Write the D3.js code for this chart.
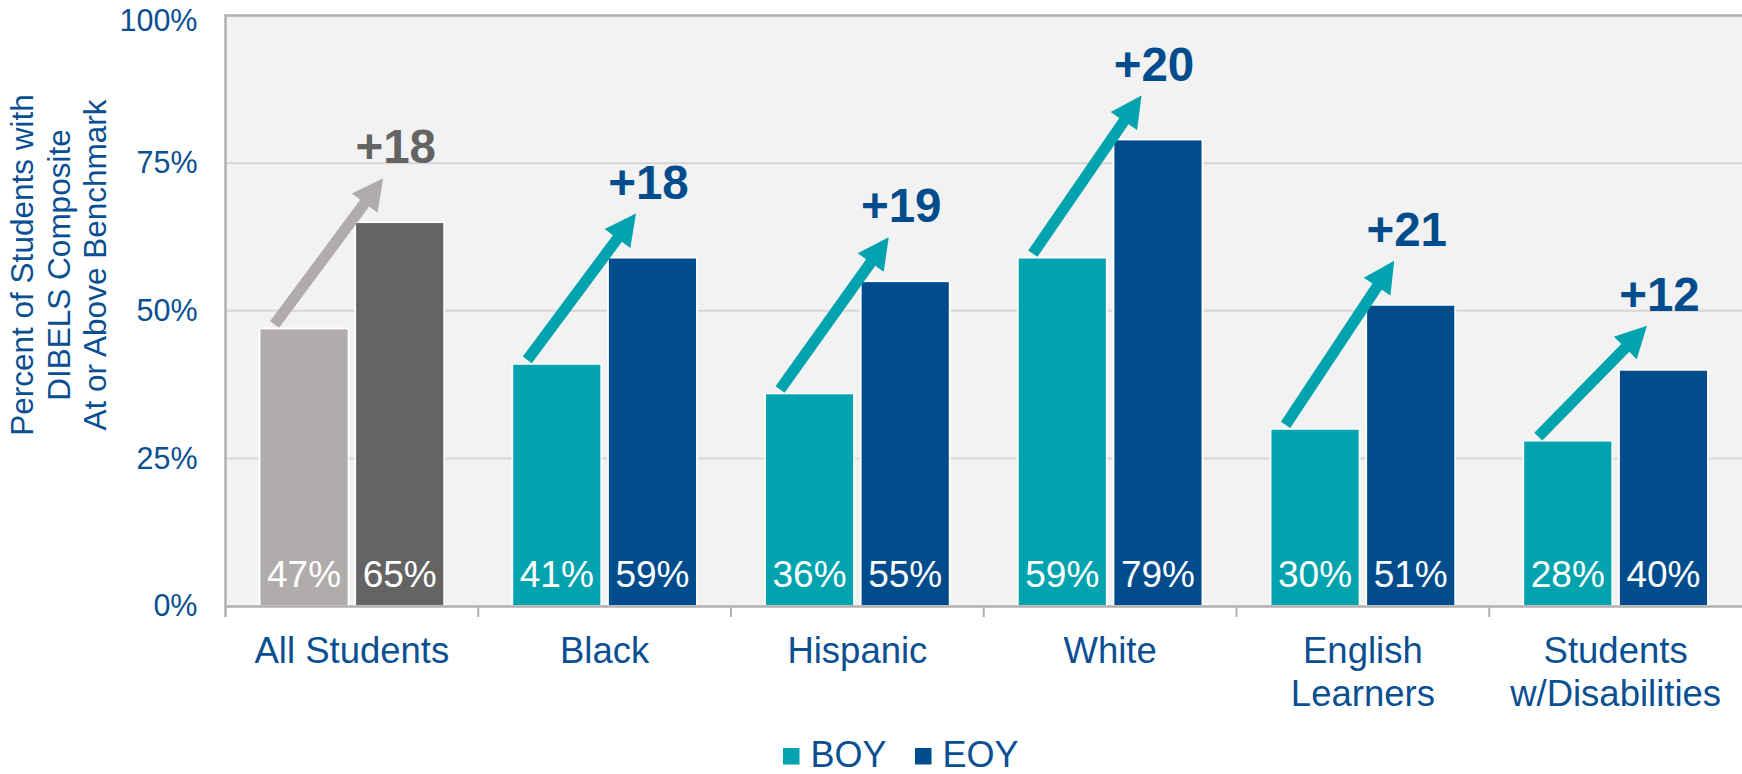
<!DOCTYPE html>
<html>
<head>
<meta charset="utf-8">
<script src="https://cdn.jsdelivr.net/npm/d3@7"></script>
<style>
  html, body { margin: 0; padding: 0; background: #ffffff; }
  svg { display: block; }
  text { font-family: "Liberation Sans", Arial, Helvetica, sans-serif; }
</style>
</head>
<body>
<svg id="chart" width="1742" height="774"></svg>
<script>
// ---- data ----
const categories = ["All Students", "Black", "Hispanic", "White", "English Learners", "Students w/Disabilities"];
const categoryLines = [["All Students"], ["Black"], ["Hispanic"], ["White"], ["English", "Learners"], ["Students", "w/Disabilities"]];
const seriesNames = ["BOY", "EOY"];
const boyValues = [47, 41, 36, 59, 30, 28];
const eoyValues = [65, 59, 55, 79, 51, 40];
const yTickValues = [0, 25, 50, 75, 100];
const yTitleLines = ["Percent of Students with", "DIBELS Composite", "At or Above Benchmark"];

// ---- styles ----
const W = 1742, H = 774;
const margin = { left: 225.5, right: 0, top: 15.5, bottom: 168 };
const colBOY = "#00a3ae", colEOY = "#004c8c";
const colAllBOY = "#afacab", colAllEOY = "#646464";
const textBlue = "#0a4f92";
const frameCol = "#b2afaf", gridCol = "#d6d6d6", plotBg = "#f2f2f2";

const svg = d3.select("#chart");
const x0 = d3.scaleBand().domain(categories).range([margin.left, W - margin.right]).padding(0);
const x1 = d3.scaleBand().domain(seriesNames).range([0, x0.bandwidth()]).paddingInner(0.07).paddingOuter(0.356);
const y = d3.scaleLinear().domain([0, 100]).range([H - margin.bottom, margin.top]);

const rows = categories.map((c, i) => ({ cat: c, i, lines: categoryLines[i], BOY: boyValues[i], EOY: eoyValues[i] }));

// plot background
svg.append("rect")
  .attr("x", margin.left).attr("y", y(100))
  .attr("width", W - margin.right - margin.left).attr("height", y(0) - y(100))
  .attr("fill", plotBg);

// gridlines
svg.append("g")
  .selectAll("line").data(yTickValues.filter(d => d > 0 && d < 100)).join("line")
  .attr("x1", margin.left).attr("x2", W - margin.right)
  .attr("y1", d => y(d)).attr("y2", d => y(d))
  .attr("stroke", gridCol).attr("stroke-width", 2);

// y axis labels
const yAxis = d3.axisLeft(y).tickValues(yTickValues).tickFormat(d => d + "%").tickSize(0).tickPadding(28);
const gy = svg.append("g").attr("transform", `translate(${margin.left},0)`).call(yAxis);
gy.select(".domain").remove();
gy.selectAll("text").attr("font-size", 30.5).attr("fill", textBlue)
  .attr("font-family", "'Liberation Sans', Arial, sans-serif")
  .attr("dy", d => d === 100 ? "0.5em" : "0.32em");

// frame: top and left and bottom axis
svg.append("line").attr("x1", margin.left).attr("x2", W).attr("y1", y(100)).attr("y2", y(100))
  .attr("stroke", frameCol).attr("stroke-width", 2.5);
svg.append("line").attr("x1", margin.left).attr("x2", margin.left).attr("y1", y(100) - 1.2).attr("y2", y(0) + 11)
  .attr("stroke", frameCol).attr("stroke-width", 2.5);

// bars
const barColor = (d, s) => d.i === 0 ? (s === "BOY" ? colAllBOY : colAllEOY) : (s === "BOY" ? colBOY : colEOY);
const groups = svg.append("g").selectAll("g").data(rows).join("g")
  .attr("transform", d => `translate(${x0(d.cat)},0)`);

groups.selectAll("rect").data(d => seriesNames.map(s => ({ d, s, v: d[s] }))).join("rect")
  .attr("x", e => x1(e.s)).attr("width", x1.bandwidth())
  .attr("y", e => y(e.v)).attr("height", e => y(0) - y(e.v))
  .attr("fill", e => barColor(e.d, e.s))
  .attr("stroke", "#ffffff").attr("stroke-width", 1.8);

// value labels inside bars
groups.selectAll("text.val").data(d => seriesNames.map(s => ({ d, s, v: d[s] }))).join("text")
  .attr("class", "val")
  .attr("x", e => x1(e.s) + x1.bandwidth() / 2)
  .attr("y", y(0) - 19.5)
  .attr("text-anchor", "middle")
  .attr("font-size", 37).attr("fill", "#ffffff")
  .text(e => e.v + "%");

// bottom axis line and ticks
const xAxis = d3.axisBottom(x0).tickSize(0).tickPadding(0).tickFormat("");
const gx = svg.append("g").attr("transform", `translate(0,${y(0)})`).call(xAxis);
gx.select(".domain").attr("stroke", frameCol).attr("stroke-width", 2.5);
const boundaries = categories.map(c => x0(c)).slice(1);
svg.append("g").selectAll("line").data(boundaries).join("line")
  .attr("x1", d => d).attr("x2", d => d).attr("y1", y(0)).attr("y2", y(0) + 11)
  .attr("stroke", frameCol).attr("stroke-width", 2);

// category labels
const catLabels = svg.append("g").selectAll("text").data(rows).join("text")
  .attr("text-anchor", "middle")
  .attr("font-size", 36.5).attr("fill", textBlue)
  .attr("x", d => x0(d.cat) + x0.bandwidth() / 2)
  .attr("y", y(0) + 57);
catLabels.selectAll("tspan").data(d => d.lines.map(l => ({ l, x: x0(d.cat) + x0.bandwidth() / 2 }))).join("tspan")
  .attr("x", t => t.x)
  .attr("dy", (t, k) => k === 0 ? 0 : 42.5)
  .text(t => t.l);

// arrows (from BOY bar top to above EOY bar top)
function arrowPath(tx, ty, hx, hy) {
  const dx = hx - tx, dy = hy - ty, L = Math.hypot(dx, dy);
  const ux = dx / L, uy = dy / L, nx = -uy, ny = ux;
  const sw = 5.6, hw = 16, hl = 31;
  const bx = hx - ux * hl, by = hy - uy * hl;
  const pts = [
    [tx + nx * sw, ty + ny * sw],
    [bx + nx * sw, by + ny * sw],
    [bx + nx * hw, by + ny * hw],
    [hx, hy],
    [bx - nx * hw, by - ny * hw],
    [bx - nx * sw, by - ny * sw],
    [tx - nx * sw, ty - ny * sw]
  ];
  return "M" + pts.map(p => p[0].toFixed(2) + "," + p[1].toFixed(2)).join("L") + "Z";
}
groups.append("path")
  .attr("d", d => {
    const tx = x1("BOY") + 15, ty = y(d.BOY) - 4;
    const hx = x1("EOY") + 28, hy = y(d.EOY) - 44;
    return arrowPath(tx, ty, hx, hy);
  })
  .attr("fill", d => d.i === 0 ? colAllBOY : colBOY);

// difference labels
groups.append("text")
  .attr("x", x1("EOY") + x1.bandwidth() / 2 - 4)
  .attr("y", d => y(d.EOY) - 59)
  .attr("text-anchor", "middle")
  .attr("font-size", 47.5).attr("font-weight", "bold")
  .attr("fill", d => d.i === 0 ? colAllEOY : colEOY)
  .text(d => "+" + (d.EOY - d.BOY));

// y axis title
const yTitle = svg.append("text")
  .attr("transform", `translate(0,265) rotate(-90)`)
  .attr("text-anchor", "middle")
  .attr("font-size", 31.5).attr("fill", textBlue);
yTitle.selectAll("tspan").data(yTitleLines).join("tspan")
  .attr("x", 0)
  .attr("y", (d, k) => 33 + k * 36.5)
  .text(d => d);

// legend
const legendItems = [
  { name: "BOY", color: colBOY, x: 783 },
  { name: "EOY", color: colEOY, x: 915 }
];
const lg = svg.append("g").selectAll("g").data(legendItems).join("g")
  .attr("transform", d => `translate(${d.x},0)`);
lg.append("rect").attr("x", 0).attr("y", 748).attr("width", 16.5).attr("height", 16.5).attr("fill", d => d.color);
lg.append("text").attr("x", 27.5).attr("y", 767.3).attr("font-size", 36).attr("fill", textBlue).text(d => d.name);
</script>
</body>
</html>
